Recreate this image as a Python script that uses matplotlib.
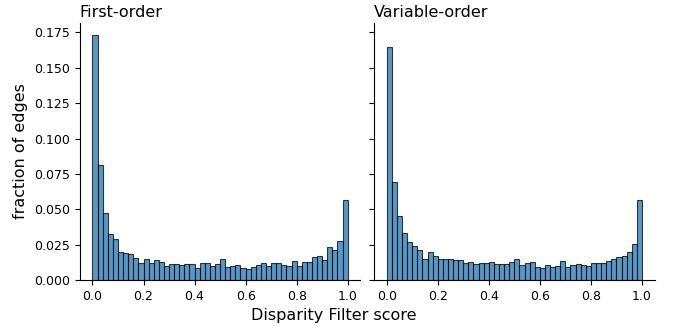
import numpy as np
import matplotlib
matplotlib.use("Agg")
import matplotlib.pyplot as plt

# histogram values (fraction of edges per bin, 50 bins over [0, 1])
first_order = [0.173, 0.081, 0.0477, 0.0326, 0.0287, 0.0198, 0.0194, 0.0182, 0.0156, 0.0120,
               0.0146, 0.0123, 0.0139, 0.0128, 0.0099, 0.0113, 0.0111, 0.0106, 0.0116, 0.0113,
               0.0085, 0.0118, 0.0118, 0.0098, 0.0112, 0.0151, 0.0095, 0.0102, 0.0104, 0.0087,
               0.0078, 0.0090, 0.0109, 0.0118, 0.0099, 0.0120, 0.0123, 0.0106, 0.0099, 0.0132,
               0.0097, 0.0128, 0.0125, 0.0165, 0.0172, 0.0142, 0.0232, 0.0213, 0.0274, 0.0565]
variable_order = [0.165, 0.0694, 0.0451, 0.0333, 0.0272, 0.0243, 0.0210, 0.0149, 0.0201, 0.0172,
                  0.0146, 0.0146, 0.0151, 0.0139, 0.0144, 0.0118, 0.0130, 0.0111, 0.0120, 0.0118,
                  0.0130, 0.0116, 0.0116, 0.0114, 0.0125, 0.0146, 0.0104, 0.0118, 0.0125, 0.0090,
                  0.0087, 0.0104, 0.0092, 0.0097, 0.0137, 0.0090, 0.0104, 0.0113, 0.0106, 0.0099,
                  0.0118, 0.0118, 0.0118, 0.0135, 0.0146, 0.0163, 0.0172, 0.0198, 0.0253, 0.0565]
titles = ["First-order", "Variable-order"]
bins = np.linspace(0, 1, 51)

plt.rcParams['font.family'] = 'DejaVu Sans'
fig, axes = plt.subplots(1, 2, figsize=(6.78, 3.26), dpi=100, sharey=True)
fig.subplots_adjust(left=79.7/678, right=654.7/678, bottom=1-280/326, top=1-23/326, wspace=0.048)

for ax, vals, title in zip(axes, [first_order, variable_order], titles):
    ax.bar(bins[:-1], vals, width=np.diff(bins), align='edge',
           color='#1f77b4', alpha=0.75, edgecolor='black', linewidth=0.8)
    ax.set_title(title, loc='left', fontsize=11.5, pad=4)
    ax.spines['top'].set_visible(False)
    ax.spines['right'].set_visible(False)
    ax.set_xticks([0.0, 0.2, 0.4, 0.6, 0.8, 1.0])
    ax.tick_params(axis='both', labelsize=9)
    ax.margins(x=0.05)

axes[0].set_ylabel('fraction of edges', fontsize=11.5)
axes[0].set_yticks(np.arange(0, 0.176, 0.025))
fig.supxlabel('Disparity Filter score', fontsize=11.5, x=333.7/678, y=0.01)

fig.savefig('out.png', dpi=100)
